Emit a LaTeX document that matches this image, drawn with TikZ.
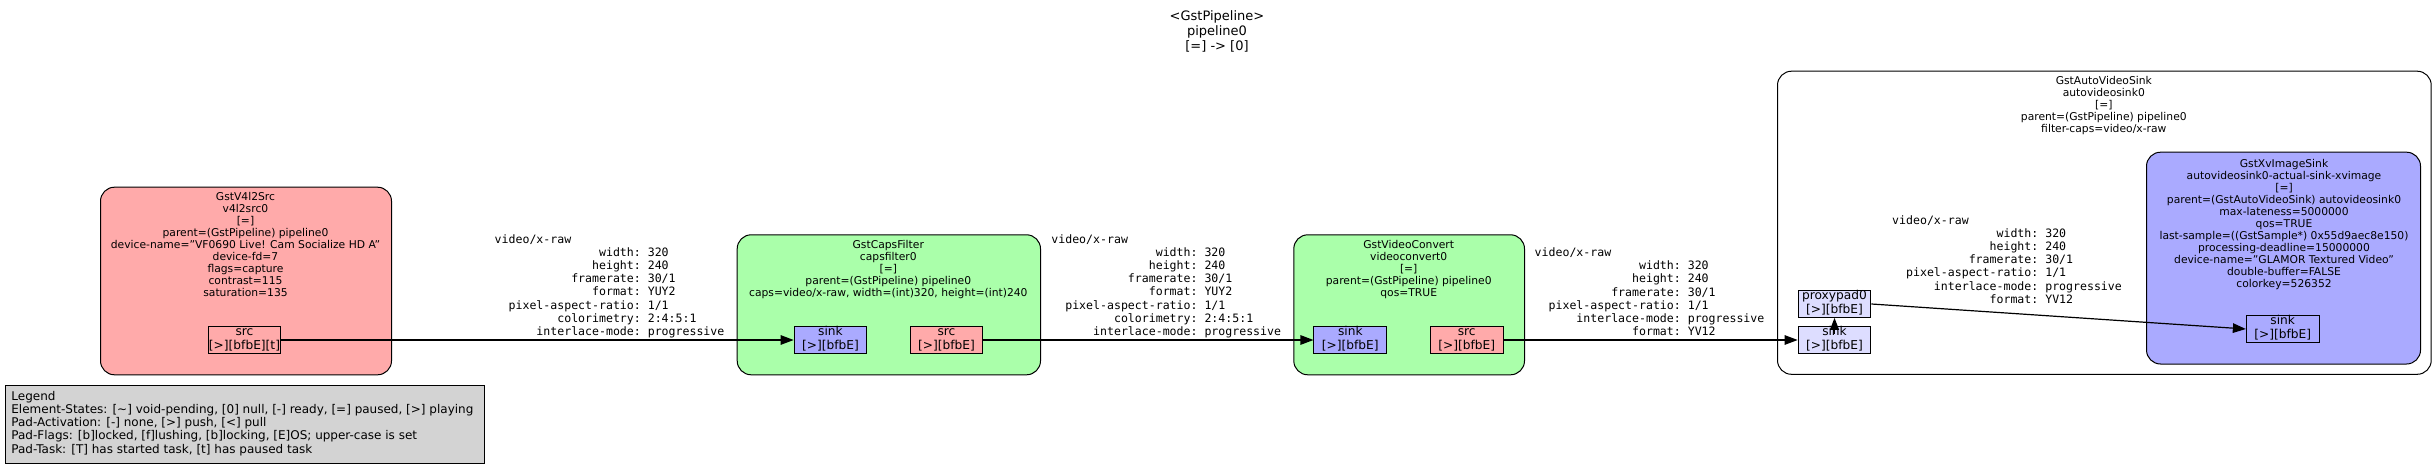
\documentclass[tikz,border=0pt]{standalone}
\usepackage{fontspec}
\setmainfont{DejaVu Sans}
\setmonofont{DejaVu Sans Mono}
\usetikzlibrary{arrows.meta}
\definecolor{srcpink}{HTML}{FFAAAA}
\definecolor{elemgreen}{HTML}{AAFFAA}
\definecolor{sinkblue}{HTML}{AAAAFF}
\definecolor{ghostpad}{HTML}{DDDDFF}
\definecolor{legendgray}{HTML}{D3D3D3}
\begin{document}
\begin{tikzpicture}[x=1pt,y=-1pt,
  elembox/.style={draw=black, line width=1pt, rounded corners=14pt, inner sep=0pt, anchor=north west},
  padbox/.style={draw=black, line width=1pt, minimum width=72.7pt, minimum height=26.8pt, inner sep=0pt, font=\fontsize{12.2}{13.4}\selectfont},
  elemtext/.style={inner sep=0pt, anchor=base, font=\fontsize{10.75}{12}\selectfont},
  titletext/.style={inner sep=0pt, anchor=base, font=\fontsize{13}{15}\selectfont},
  legendtext/.style={inner sep=0pt, anchor=base west, font=\fontsize{12}{13.33}\selectfont},
  capstext/.style={inner sep=0pt, anchor=base west, font=\ttfamily\fontsize{11.56}{13.24}\selectfont},
  link/.style={draw=black, line width=1.2pt, -{Triangle[length=13pt,width=9.5pt]}},
  shortlink/.style={draw=black, line width=1.2pt, -{Triangle[length=12pt,width=9pt]}},
]
\useasboundingbox (0,0) rectangle (2436,468);
\fill[white] (0,0) rectangle (2436,468);

% title
\node[titletext] (title) at (1217,20.5) {\begin{tabular}[t]{@{}c@{}}<GstPipeline>\\pipeline0\\{[=] -> [0]}\end{tabular}};

% legend
\node[draw=black, line width=1pt, fill=legendgray, anchor=north west, minimum width=479pt, minimum height=78pt, inner sep=0pt] (legendbox) at (5,385) {};
\node[legendtext] (legend) at (11.2,400) {\begin{tabular}[t]{@{}l@{}}Legend\\
Element-States: {[\textasciitilde] void-pending, [0] null, [-] ready, [=] paused, [>] playing}\\
Pad-Activation: {[-] none, [>] push, [<] pull}\\
Pad-Flags: {[b]locked, [f]lushing, [b]locking, [E]OS; upper-case is set}\\
Pad-Task: {[T] has started task, [t] has paused task}\end{tabular}};

% v4l2src
\node[elembox, fill=srcpink, minimum width=291pt, minimum height=187.6pt] (v4l2) at (100,186.7) {};
\node[elemtext] (v4l2lbl) at (245.5,200.5) {\begin{tabular}[t]{@{}c@{}}GstV4l2Src\\v4l2src0\\{[=]}\\parent=(GstPipeline) pipeline0\\device-name="VF0690 Live! Cam Socialize HD A"\\device-fd=7\\flags=capture\\contrast=115\\saturation=135\end{tabular}};
\node[padbox, fill=srcpink] (v4src) at (244.5,340) {\begin{tabular}{@{}c@{}}src\\{[>][bfbE][t]}\end{tabular}};

% capsfilter
\node[elembox, fill=elemgreen, minimum width=303.3pt, minimum height=140pt] (capsf) at (736.7,234.3) {};
\node[elemtext] (capsflbl) at (888.3,248.8) {\begin{tabular}[t]{@{}c@{}}GstCapsFilter\\capsfilter0\\{[=]}\\parent=(GstPipeline) pipeline0\\caps=video/x-raw, width=(int)320, height=(int)240\end{tabular}};
\node[padbox, fill=sinkblue] (cfsink) at (830.5,340) {\begin{tabular}{@{}c@{}}sink\\{[>][bfbE]}\end{tabular}};
\node[padbox, fill=srcpink] (cfsrc) at (946.5,340) {\begin{tabular}{@{}c@{}}src\\{[>][bfbE]}\end{tabular}};

% videoconvert
\node[elembox, fill=elemgreen, minimum width=230.7pt, minimum height=140pt] (vconv) at (1293.3,234.3) {};
\node[elemtext] (vconvlbl) at (1408.7,248.8) {\begin{tabular}[t]{@{}c@{}}GstVideoConvert\\videoconvert0\\{[=]}\\parent=(GstPipeline) pipeline0\\qos=TRUE\end{tabular}};
\node[padbox, fill=sinkblue] (vcsink) at (1350.3,340) {\begin{tabular}{@{}c@{}}sink\\{[>][bfbE]}\end{tabular}};
\node[padbox, fill=srcpink] (vcsrc) at (1466.7,340) {\begin{tabular}{@{}c@{}}src\\{[>][bfbE]}\end{tabular}};

% autovideosink
\node[elembox, fill=white, minimum width=653.7pt, minimum height=303.1pt] (avsink) at (1777,70.7) {};
\node[elemtext] (avsinklbl) at (2103.8,84.8) {\begin{tabular}[t]{@{}c@{}}GstAutoVideoSink\\autovideosink0\\{[=]}\\parent=(GstPipeline) pipeline0\\filter-caps=video/x-raw\end{tabular}};
\node[padbox, fill=ghostpad] (proxy) at (1834.5,304) {\begin{tabular}{@{}c@{}}proxypad0\\{[>][bfbE]}\end{tabular}};
\node[padbox, fill=ghostpad] (gsink) at (1834.5,340) {\begin{tabular}{@{}c@{}}sink\\{[>][bfbE]}\end{tabular}};

% xvimagesink
\node[elembox, fill=sinkblue, minimum width=274pt, minimum height=211.8pt] (xv) at (2146,151.7) {};
\node[elemtext] (xvlbl) at (2284,167.1) {\begin{tabular}[t]{@{}c@{}}GstXvImageSink\\autovideosink0-actual-sink-xvimage\\{[=]}\\parent=(GstAutoVideoSink) autovideosink0\\max-lateness=5000000\\qos=TRUE\\last-sample=((GstSample*) 0x55d9aec8e150)\\processing-deadline=15000000\\device-name="GLAMOR Textured Video"\\double-buffer=FALSE\\colorkey=526352\end{tabular}};
\node[padbox, fill=sinkblue] (xvsink) at (2282.7,329) {\begin{tabular}{@{}c@{}}sink\\{[>][bfbE]}\end{tabular}};

% caps labels
\node[capstext] (caps1) at (494.5,243) {\begin{tabular}[t]{@{\hspace{1.204em}}r@{:\hspace{0.602em}}l@{}}
\multicolumn{2}{@{}l@{}}{video/x-raw}\\
width & 320\\
height & 240\\
framerate & 30/1\\
format & YUY2\\
pixel-aspect-ratio & 1/1\\
colorimetry & 2:4:5:1\\
interlace-mode & progressive
\end{tabular}};
\node[capstext] (caps2) at (1051.2,243) {\begin{tabular}[t]{@{\hspace{1.204em}}r@{:\hspace{0.602em}}l@{}}
\multicolumn{2}{@{}l@{}}{video/x-raw}\\
width & 320\\
height & 240\\
framerate & 30/1\\
format & YUY2\\
pixel-aspect-ratio & 1/1\\
colorimetry & 2:4:5:1\\
interlace-mode & progressive
\end{tabular}};
\node[capstext] (caps3) at (1534.5,256.3) {\begin{tabular}[t]{@{\hspace{1.204em}}r@{:\hspace{0.602em}}l@{}}
\multicolumn{2}{@{}l@{}}{video/x-raw}\\
width & 320\\
height & 240\\
framerate & 30/1\\
pixel-aspect-ratio & 1/1\\
interlace-mode & progressive\\
format & YV12
\end{tabular}};
\node[capstext] (caps4) at (1892,224) {\begin{tabular}[t]{@{\hspace{1.204em}}r@{:\hspace{0.602em}}l@{}}
\multicolumn{2}{@{}l@{}}{video/x-raw}\\
width & 320\\
height & 240\\
framerate & 30/1\\
pixel-aspect-ratio & 1/1\\
interlace-mode & progressive\\
format & YV12
\end{tabular}};

% links
\draw[link] (v4src.east) -- (cfsink.west);
\draw[link] (cfsrc.east) -- (vcsink.west);
\draw[link] (vcsrc.east) -- (gsink.west);
\draw[shortlink] ([yshift=-8pt]gsink.north) -- (proxy.south);
\draw[link] (proxy.east) -- (xvsink.west);
\end{tikzpicture}
\end{document}
